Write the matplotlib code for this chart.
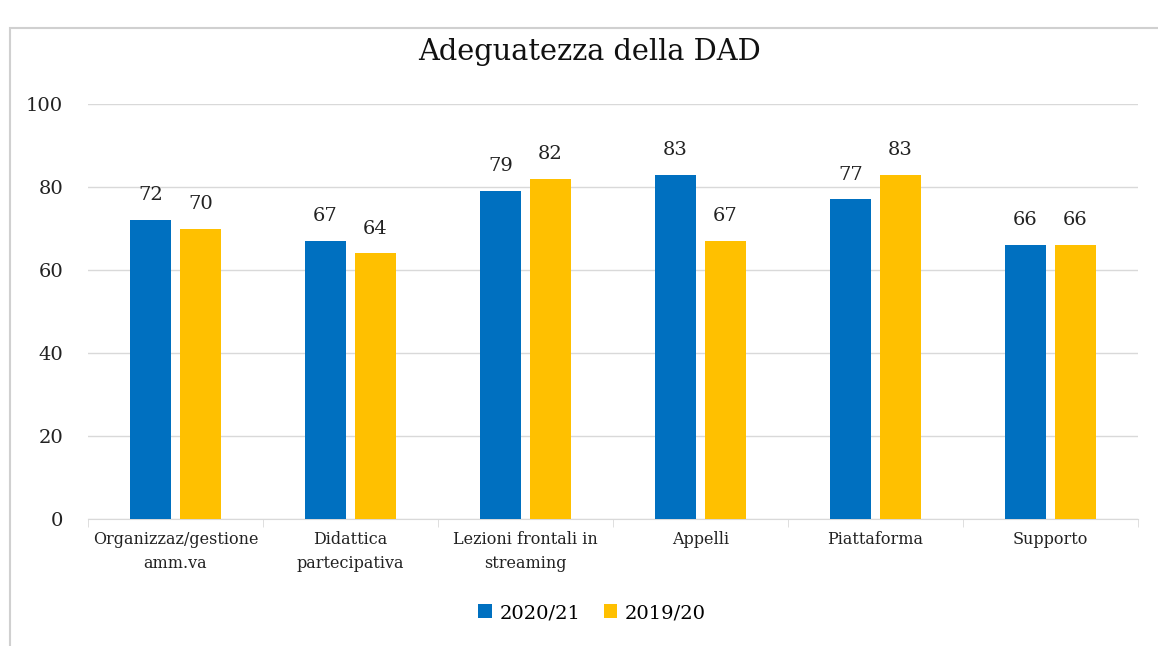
import numpy as np
import matplotlib.pyplot as plt
from matplotlib.patches import Rectangle

categories = ["Organizzaz/gestione\namm.va", "Didattica\npartecipativa",
              "Lezioni frontali in\nstreaming", "Appelli", "Piattaforma", "Supporto"]
val_2021 = [72, 67, 79, 83, 77, 66]
val_1920 = [70, 64, 82, 67, 83, 66]
series_names = ["2020/21", "2019/20"]

plt.rcParams['font.family'] = ['DejaVu Serif']

fig = plt.figure(figsize=(11.58, 6.46), dpi=100)
ax = fig.add_axes([88/1158, 1-519/646, 1050/1158, 415/646])

# outer frame of the chart box
fig.patches.append(Rectangle((10/1158, -0.05), 1.1, 1-28/646+0.05,
                             transform=fig.transFigure, fill=False,
                             edgecolor='#d0d0d0', lw=1.5))

x = np.arange(len(categories))
w = 0.229
off = 0.143
b1 = ax.bar(x - off, val_2021, w, color='#0070C0', label=series_names[0], zorder=3)
b2 = ax.bar(x + off, val_1920, w, color='#FFC000', label=series_names[1], zorder=3)

for bars in (b1, b2):
    for r in bars:
        ax.text(r.get_x() + r.get_width()/2, r.get_height() + 3.8, "%d" % r.get_height(),
                ha='center', va='bottom', fontsize=14, color='#222222')

ax.set_xlim(-0.5, len(categories) - 0.5)
ax.set_ylim(0, 100)
ax.set_yticks(range(0, 101, 20))
ax.yaxis.grid(True, color='#d9d9d9', lw=1, zorder=0)
ax.tick_params(axis='y', length=0, labelsize=14, pad=18, colors='#222222')
ax.set_xticks(x)
ax.set_xticklabels(categories, fontsize=11.5, color='#222222', linespacing=1.5)
ax.set_xticks(np.arange(-0.5, len(categories)), minor=True)
ax.tick_params(axis='x', which='major', length=0, pad=9)
ax.tick_params(axis='x', which='minor', length=6, color='#d9d9d9')
for s in ['top', 'right', 'left']:
    ax.spines[s].set_visible(False)
ax.spines['bottom'].set_color('#d9d9d9')

fig.text(590/1158, 1-52/646, "Adeguatezza della DAD", ha='center', va='center',
         fontsize=20.8, color='#111111')

fig.legend(handles=[b1, b2], loc='center', bbox_to_anchor=(592/1158, 1-613/646),
           ncol=2, frameon=False, fontsize=14, handlelength=0.7, handleheight=0.7,
           columnspacing=1.2, handletextpad=0.4)

fig.savefig('out.png', dpi=100)
